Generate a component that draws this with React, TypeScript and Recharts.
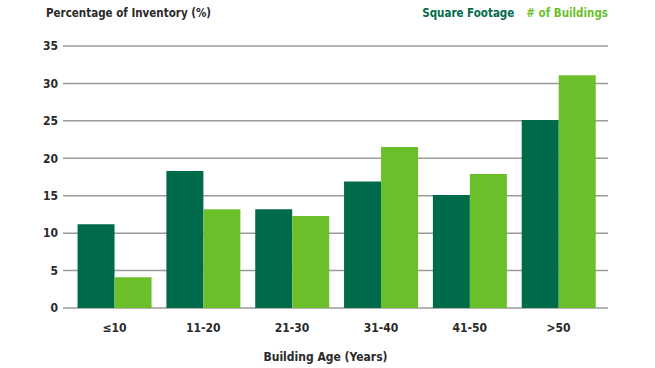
import { BarChart, Bar, XAxis, YAxis, CartesianGrid, Legend } from 'recharts';

const categories = ['≤10', '11-20', '21-30', '31-40', '41-50', '>50'];
const squareFootage = [11.2, 18.3, 13.2, 16.9, 15.1, 25.1];
const buildingCount = [4.1, 13.2, 12.3, 21.5, 17.9, 31.1];
const yTicks = [0, 5, 10, 15, 20, 25, 30, 35];

const DARK = '#006b4a';
const LIGHT = '#6abf2a';
const TEXT = '#2a2a2a';

const data = categories.map((age, i) => ({
  age,
  sqft: squareFootage[i],
  buildings: buildingCount[i],
}));

function LegendText() {
  return (
    <div style={{ fontSize: 11.5, textAlign: 'right', whiteSpace: 'nowrap' }}>
      <span style={{ color: DARK }}>Square Footage</span>
      <span style={{ color: LIGHT, marginLeft: 12 }}># of Buildings</span>
    </div>
  );
}

export default function App() {
  return (
    <div
      style={{
        position: 'absolute',
        left: 0,
        top: 0,
        width: 655,
        height: 368,
        background: '#fff',
        fontFamily: '"DejaVu Sans", sans-serif',
        fontStretch: 'condensed',
        fontWeight: 700,
      }}
    >
      <div
        style={{
          position: 'absolute',
          left: 46,
          top: 6,
          fontSize: 11.5,
          color: TEXT,
          whiteSpace: 'nowrap',
        }}
      >
        Percentage of Inventory (%)
      </div>
      <BarChart
        width={655}
        height={368}
        data={data}
        margin={{ top: 46, right: 47, left: 0, bottom: 0 }}
        barGap={0}
        barCategoryGap="8.5%"
      >
        <CartesianGrid vertical={false} stroke="#9a9a9a" strokeWidth={1.5} />
        <XAxis
          dataKey="age"
          height={60}
          axisLine={false}
          tickLine={false}
          tickSize={0}
          tickMargin={15}
          padding={{ left: 7, right: 5 }}
          tick={{ fill: TEXT, fontSize: 12 }}
          label={{
            value: 'Building Age (Years)',
            position: 'insideBottom',
            offset: 7,
            dx: -10,
            fill: TEXT,
            fontSize: 12,
          }}
        />
        <YAxis
          width={63}
          domain={[0, 35]}
          ticks={yTicks}
          axisLine={false}
          tickLine={false}
          tickSize={3}
          tickMargin={2}
          tick={{ fill: TEXT, fontSize: 12 }}
        />
        {/* middle alignment keeps the legend out of the plot offset */}
        <Legend
          verticalAlign="middle"
          content={<LegendText />}
          wrapperStyle={{ top: 6, left: 400, width: 208 }}
        />
        <Bar dataKey="sqft" name="Square Footage" fill={DARK} isAnimationActive={false} />
        <Bar dataKey="buildings" name="# of Buildings" fill={LIGHT} isAnimationActive={false} />
      </BarChart>
    </div>
  );
}
